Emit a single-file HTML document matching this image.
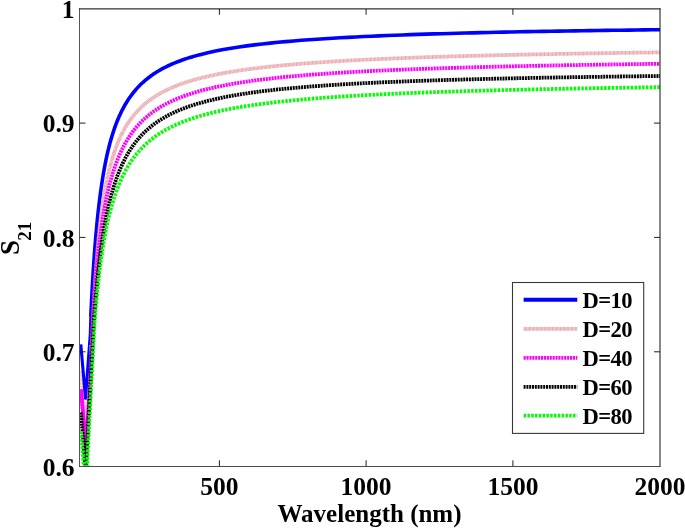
<!DOCTYPE html>
<html><head><meta charset="utf-8"><style>
html,body{margin:0;padding:0;background:#fff;}
body{width:685px;height:529px;overflow:hidden;}
svg{display:block;will-change:transform;}
text{font-family:"Liberation Serif",serif;font-weight:bold;fill:#000;}
.tk{font-size:25.5px;}
.lg{font-size:22.6px;letter-spacing:-0.6px;}
</style></head><body>
<svg width="685" height="529" viewBox="0 0 685 529">
<defs><clipPath id="c"><rect x="79.5" y="8.8" width="580.5" height="457.5"/></clipPath></defs>
<rect width="685" height="529" fill="#fff"/>
<g clip-path="url(#c)" fill="none" stroke-linejoin="round">
<polyline points="80.8,371 85.6,430 91.0,345" stroke="#f0c2c5" stroke-width="3.8" stroke-dasharray="1 0.35"/>
<polyline points="90.80,316.81 91.17,308.87 91.54,301.34 91.91,294.20 92.28,287.42 92.65,280.96 93.02,274.82 93.39,268.95 93.76,263.35 94.13,258.00 94.50,252.89 94.87,247.99 95.24,243.29 95.61,238.78 95.97,234.46 96.34,230.30 96.71,226.31 97.08,222.46 97.45,218.76 97.82,215.19 98.19,211.75 98.56,208.42 98.93,205.22 99.30,202.12 99.67,199.12 100.04,196.23 100.41,193.42 100.78,190.71 101.15,188.08 101.52,185.53 101.89,183.06 102.26,180.66 102.63,178.33 103.00,176.07 103.37,173.88 103.74,171.74 104.11,169.67 104.48,167.65 104.85,165.69 105.22,163.78 105.58,161.92 105.95,160.11 106.32,158.34 106.69,156.62 107.06,154.94 107.43,153.31 107.80,151.71 108.17,150.15 108.54,148.63 108.91,147.15 109.28,145.70 109.65,144.28 110.02,142.90 110.39,141.54 110.76,140.22 111.13,138.93 111.50,137.66 111.87,136.42 112.24,135.21 112.61,134.02 112.98,132.86 113.35,131.72 113.72,130.61 114.09,129.52 114.46,128.45 114.83,127.40 115.19,126.37 115.56,125.36 115.93,124.37 116.30,123.40 116.67,122.45 117.04,121.51 117.41,120.60 117.78,119.70 118.15,118.82 118.52,117.95 118.89,117.10 119.26,116.26 119.63,115.44 120.00,114.63 121.36,111.78 122.71,109.11 124.07,106.59 125.42,104.21 126.78,101.97 128.14,99.84 129.49,97.83 130.85,95.92 132.20,94.10 133.56,92.37 134.92,90.73 136.27,89.16 137.63,87.66 138.98,86.22 140.34,84.85 141.69,83.54 143.05,82.28 144.41,81.08 145.76,79.92 147.12,78.80 148.47,77.73 149.83,76.70 151.19,75.71 152.54,74.75 153.90,73.83 155.25,72.94 156.61,72.08 157.97,71.25 159.32,70.45 160.68,69.67 162.03,68.92 163.39,68.19 164.75,67.49 166.10,66.80 167.46,66.14 168.81,65.50 170.17,64.87 171.53,64.27 172.88,63.68 174.24,63.11 175.59,62.55 176.95,62.01 178.31,61.48 179.66,60.97 181.02,60.47 182.37,59.98 183.73,59.51 185.08,59.05 186.44,58.60 187.80,58.16 189.15,57.73 190.51,57.31 191.86,56.91 193.22,56.51 194.58,56.12 195.93,55.74 197.29,55.37 198.64,55.00 200.00,54.65 207.80,52.75 215.59,51.07 223.39,49.57 231.19,48.22 238.98,47.00 246.78,45.89 254.58,44.89 262.37,43.96 270.17,43.12 277.97,42.33 285.76,41.61 293.56,40.94 301.36,40.32 309.15,39.74 316.95,39.19 324.75,38.69 332.54,38.21 340.34,37.76 348.14,37.34 355.93,36.94 363.73,36.56 371.53,36.20 379.32,35.86 387.12,35.54 394.92,35.24 402.71,34.95 410.51,34.67 418.31,34.40 426.10,34.15 433.90,33.91 441.69,33.68 449.49,33.46 457.29,33.25 465.08,33.04 472.88,32.85 480.68,32.66 488.47,32.48 496.27,32.30 504.07,32.14 511.86,31.97 519.66,31.82 527.46,31.67 535.25,31.52 543.05,31.38 550.85,31.25 558.64,31.11 566.44,30.99 574.24,30.86 582.03,30.75 589.83,30.63 597.63,30.52 605.42,30.41 613.22,30.30 621.02,30.20 628.81,30.10 636.61,30.00 644.41,29.91 652.20,29.82 660.00,29.73" stroke="#0000ff" stroke-width="3.6"/>
<polyline points="80.8,344.3 85.5,398.3 90.3,334 90.80,316.81" stroke="#0000ff" stroke-width="3.1"/>
<polyline points="91.00,345.00 91.60,354.92 91.96,345.34 92.32,336.37 92.68,327.95 93.04,320.02 93.40,312.54 93.76,305.48 94.12,298.81 94.48,292.48 94.84,286.47 95.19,280.77 95.55,275.34 95.91,270.16 96.27,265.23 96.63,260.52 96.99,256.01 97.35,251.70 97.71,247.57 98.07,243.61 98.43,239.81 98.79,236.16 99.15,232.65 99.51,229.27 99.87,226.02 100.23,222.88 100.59,219.86 100.95,216.94 101.31,214.13 101.67,211.41 102.03,208.78 102.38,206.23 102.74,203.77 103.10,201.38 103.46,199.07 103.82,196.83 104.18,194.66 104.54,192.55 104.90,190.50 105.26,188.52 105.62,186.58 105.98,184.71 106.34,182.88 106.70,181.10 107.06,179.37 107.42,177.69 107.78,176.05 108.14,174.45 108.50,172.89 108.86,171.37 109.22,169.89 109.57,168.44 109.93,167.03 110.29,165.65 110.65,164.31 111.01,162.99 111.37,161.71 111.73,160.45 112.09,159.22 112.45,158.02 112.81,156.85 113.17,155.70 113.53,154.57 113.89,153.47 114.25,152.39 114.61,151.34 114.97,150.30 115.33,149.29 115.69,148.30 116.05,147.32 116.41,146.37 116.76,145.43 117.12,144.52 117.48,143.61 117.84,142.73 118.20,141.86 118.56,141.01 118.92,140.18 119.28,139.35 119.64,138.55 120.00,137.76 121.36,134.89 122.71,132.21 124.07,129.68 125.42,127.31 126.78,125.07 128.14,122.95 129.49,120.95 130.85,119.05 132.20,117.25 133.56,115.54 134.92,113.91 136.27,112.35 137.63,110.87 138.98,109.46 140.34,108.10 141.69,106.81 143.05,105.57 144.41,104.38 145.76,103.23 147.12,102.14 148.47,101.08 149.83,100.07 151.19,99.09 152.54,98.14 153.90,97.24 155.25,96.36 156.61,95.51 157.97,94.69 159.32,93.90 160.68,93.13 162.03,92.39 163.39,91.67 164.75,90.98 166.10,90.30 167.46,89.65 168.81,89.01 170.17,88.40 171.53,87.80 172.88,87.22 174.24,86.65 175.59,86.10 176.95,85.56 178.31,85.04 179.66,84.54 181.02,84.04 182.37,83.56 183.73,83.09 185.08,82.63 186.44,82.18 187.80,81.75 189.15,81.32 190.51,80.91 191.86,80.50 193.22,80.11 194.58,79.72 195.93,79.34 197.29,78.97 198.64,78.61 200.00,78.25 207.80,76.36 215.59,74.67 223.39,73.16 231.19,71.80 238.98,70.57 246.78,69.45 254.58,68.42 262.37,67.48 270.17,66.61 277.97,65.81 285.76,65.07 293.56,64.38 301.36,63.73 309.15,63.13 316.95,62.57 324.75,62.04 332.54,61.54 340.34,61.07 348.14,60.62 355.93,60.20 363.73,59.80 371.53,59.43 379.32,59.07 387.12,58.73 394.92,58.40 402.71,58.09 410.51,57.79 418.31,57.51 426.10,57.24 433.90,56.98 441.69,56.73 449.49,56.49 457.29,56.26 465.08,56.04 472.88,55.83 480.68,55.62 488.47,55.43 496.27,55.24 504.07,55.05 511.86,54.88 519.66,54.71 527.46,54.54 535.25,54.38 543.05,54.23 550.85,54.08 558.64,53.93 566.44,53.79 574.24,53.65 582.03,53.52 589.83,53.39 597.63,53.27 605.42,53.15 613.22,53.03 621.02,52.91 628.81,52.80 636.61,52.69 644.41,52.59 652.20,52.48 660.00,52.38" stroke="#e9a4a8" stroke-width="3.8" stroke-dasharray="1 0.35"/>
<polyline points="81.00,389.50 86.00,449.00 92.00,352.00 92.80,321.19 93.14,315.47 93.49,310.00 93.83,304.75 94.18,299.72 94.52,294.89 94.87,290.26 95.21,285.80 95.55,281.51 95.90,277.38 96.24,273.40 96.59,269.56 96.93,265.86 97.28,262.29 97.62,258.83 97.96,255.50 98.31,252.27 98.65,249.15 99.00,246.12 99.34,243.19 99.69,240.35 100.03,237.60 100.37,234.93 100.72,232.34 101.06,229.82 101.41,227.37 101.75,225.00 102.10,222.69 102.44,220.44 102.78,218.25 103.13,216.12 103.47,214.05 103.82,212.03 104.16,210.07 104.51,208.15 104.85,206.28 105.19,204.46 105.54,202.68 105.88,200.94 106.23,199.25 106.57,197.59 106.92,195.97 107.26,194.39 107.61,192.85 107.95,191.34 108.29,189.86 108.64,188.42 108.98,187.01 109.33,185.63 109.67,184.27 110.02,182.95 110.36,181.65 110.70,180.38 111.05,179.14 111.39,177.92 111.74,176.72 112.08,175.55 112.43,174.40 112.77,173.27 113.11,172.17 113.46,171.08 113.80,170.02 114.15,168.98 114.49,167.95 114.84,166.95 115.18,165.96 115.52,164.99 115.87,164.03 116.21,163.10 116.56,162.18 116.90,161.27 117.25,160.39 117.59,159.51 117.93,158.65 118.28,157.81 118.62,156.98 118.97,156.16 119.31,155.36 119.66,154.57 120.00,153.79 121.36,150.85 122.71,148.08 124.07,145.47 125.42,143.00 126.78,140.67 128.14,138.46 129.49,136.37 130.85,134.38 132.20,132.49 133.56,130.69 134.92,128.98 136.27,127.34 137.63,125.77 138.98,124.28 140.34,122.84 141.69,121.47 143.05,120.16 144.41,118.89 145.76,117.68 147.12,116.51 148.47,115.39 149.83,114.30 151.19,113.26 152.54,112.26 153.90,111.29 155.25,110.35 156.61,109.45 157.97,108.57 159.32,107.72 160.68,106.91 162.03,106.11 163.39,105.35 164.75,104.60 166.10,103.88 167.46,103.18 168.81,102.50 170.17,101.84 171.53,101.20 172.88,100.57 174.24,99.97 175.59,99.38 176.95,98.80 178.31,98.25 179.66,97.70 181.02,97.17 182.37,96.66 183.73,96.15 185.08,95.66 186.44,95.18 187.80,94.72 189.15,94.26 190.51,93.82 191.86,93.38 193.22,92.96 194.58,92.54 195.93,92.14 197.29,91.74 198.64,91.35 200.00,90.97 207.80,88.94 215.59,87.14 223.39,85.53 231.19,84.08 238.98,82.77 246.78,81.57 254.58,80.49 262.37,79.49 270.17,78.57 277.97,77.72 285.76,76.94 293.56,76.21 301.36,75.53 309.15,74.89 316.95,74.30 324.75,73.74 332.54,73.22 340.34,72.73 348.14,72.26 355.93,71.83 363.73,71.41 371.53,71.02 379.32,70.65 387.12,70.29 394.92,69.95 402.71,69.63 410.51,69.33 418.31,69.03 426.10,68.75 433.90,68.49 441.69,68.23 449.49,67.98 457.29,67.75 465.08,67.52 472.88,67.30 480.68,67.09 488.47,66.89 496.27,66.70 504.07,66.51 511.86,66.33 519.66,66.16 527.46,65.99 535.25,65.83 543.05,65.67 550.85,65.52 558.64,65.37 566.44,65.23 574.24,65.09 582.03,64.96 589.83,64.83 597.63,64.70 605.42,64.58 613.22,64.46 621.02,64.34 628.81,64.23 636.61,64.12 644.41,64.01 652.20,63.91 660.00,63.81" stroke="#ff00ff" stroke-width="3.8" stroke-dasharray="2.1 0.8"/>
<polyline points="81.0,389.5 86.0,449 92.0,352" stroke="#ff00ff" stroke-width="3.6"/>
<polyline points="81.00,412.50 85.70,471.00 93.80,322.70 94.13,318.04 94.46,313.55 94.79,309.21 95.13,305.01 95.46,300.96 95.79,297.04 96.12,293.24 96.45,289.57 96.78,286.01 97.12,282.56 97.45,279.21 97.78,275.97 98.11,272.82 98.44,269.76 98.77,266.79 99.11,263.90 99.44,261.09 99.77,258.36 100.10,255.71 100.43,253.12 100.76,250.61 101.10,248.16 101.43,245.77 101.76,243.44 102.09,241.18 102.42,238.96 102.75,236.81 103.09,234.70 103.42,232.65 103.75,230.64 104.08,228.69 104.41,226.77 104.74,224.90 105.08,223.08 105.41,221.29 105.74,219.55 106.07,217.84 106.40,216.17 106.73,214.53 107.07,212.93 107.40,211.37 107.73,209.84 108.06,208.33 108.39,206.86 108.72,205.42 109.06,204.01 109.39,202.63 109.72,201.27 110.05,199.94 110.38,198.63 110.71,197.35 111.05,196.10 111.38,194.87 111.71,193.66 112.04,192.47 112.37,191.31 112.70,190.16 113.04,189.04 113.37,187.94 113.70,186.85 114.03,185.79 114.36,184.74 114.69,183.72 115.03,182.70 115.36,181.71 115.69,180.73 116.02,179.77 116.35,178.83 116.68,177.90 117.02,176.99 117.35,176.09 117.68,175.20 118.01,174.33 118.34,173.48 118.67,172.63 119.01,171.80 119.34,170.98 119.67,170.18 120.00,169.39 121.36,166.27 122.71,163.33 124.07,160.56 125.42,157.95 126.78,155.47 128.14,153.13 129.49,150.91 130.85,148.79 132.20,146.79 133.56,144.87 134.92,143.05 136.27,141.31 137.63,139.65 138.98,138.06 140.34,136.54 141.69,135.08 143.05,133.69 144.41,132.35 145.76,131.06 147.12,129.82 148.47,128.63 149.83,127.49 151.19,126.38 152.54,125.32 153.90,124.29 155.25,123.30 156.61,122.35 157.97,121.42 159.32,120.53 160.68,119.67 162.03,118.83 163.39,118.02 164.75,117.24 166.10,116.48 167.46,115.74 168.81,115.03 170.17,114.33 171.53,113.66 172.88,113.01 174.24,112.37 175.59,111.75 176.95,111.15 178.31,110.57 179.66,110.00 181.02,109.45 182.37,108.91 183.73,108.38 185.08,107.87 186.44,107.37 187.80,106.88 189.15,106.41 190.51,105.95 191.86,105.49 193.22,105.05 194.58,104.62 195.93,104.20 197.29,103.79 198.64,103.39 200.00,102.99 207.80,100.90 215.59,99.04 223.39,97.38 231.19,95.90 238.98,94.56 246.78,93.35 254.58,92.25 262.37,91.24 270.17,90.31 277.97,89.46 285.76,88.67 293.56,87.95 301.36,87.27 309.15,86.64 316.95,86.05 324.75,85.50 332.54,84.99 340.34,84.50 348.14,84.05 355.93,83.62 363.73,83.21 371.53,82.83 379.32,82.47 387.12,82.13 394.92,81.80 402.71,81.49 410.51,81.19 418.31,80.91 426.10,80.64 433.90,80.39 441.69,80.14 449.49,79.91 457.29,79.68 465.08,79.47 472.88,79.26 480.68,79.06 488.47,78.87 496.27,78.69 504.07,78.51 511.86,78.34 519.66,78.18 527.46,78.02 535.25,77.87 543.05,77.72 550.85,77.58 558.64,77.44 566.44,77.31 574.24,77.18 582.03,77.06 589.83,76.94 597.63,76.82 605.42,76.71 613.22,76.60 621.02,76.49 628.81,76.39 636.61,76.29 644.41,76.19 652.20,76.09 660.00,76.00" stroke="#000000" stroke-width="3.8" stroke-dasharray="2 0.8"/>
<polyline points="81.00,431.50 85.70,491.00 94.60,322.19 94.92,318.05 95.24,314.04 95.56,310.17 95.89,306.42 96.21,302.79 96.53,299.28 96.85,295.88 97.17,292.58 97.49,289.38 97.82,286.28 98.14,283.26 98.46,280.34 98.78,277.49 99.10,274.73 99.42,272.04 99.74,269.43 100.07,266.89 100.39,264.41 100.71,262.00 101.03,259.65 101.35,257.36 101.67,255.13 101.99,252.95 102.32,250.83 102.64,248.76 102.96,246.74 103.28,244.77 103.60,242.84 103.92,240.96 104.25,239.12 104.57,237.32 104.89,235.56 105.21,233.84 105.53,232.16 105.85,230.52 106.17,228.91 106.50,227.33 106.82,225.79 107.14,224.28 107.46,222.80 107.78,221.35 108.10,219.93 108.43,218.54 108.75,217.17 109.07,215.84 109.39,214.52 109.71,213.24 110.03,211.97 110.35,210.74 110.68,209.52 111.00,208.33 111.32,207.15 111.64,206.00 111.96,204.87 112.28,203.76 112.61,202.67 112.93,201.60 113.25,200.55 113.57,199.52 113.89,198.50 114.21,197.50 114.53,196.51 114.86,195.55 115.18,194.60 115.50,193.66 115.82,192.74 116.14,191.84 116.46,190.94 116.78,190.07 117.11,189.20 117.43,188.35 117.75,187.52 118.07,186.69 118.39,185.88 118.71,185.08 119.04,184.30 119.36,183.52 119.68,182.76 120.00,182.00 121.36,178.95 122.71,176.06 124.07,173.35 125.42,170.78 126.78,168.35 128.14,166.04 129.49,163.86 130.85,161.78 132.20,159.80 133.56,157.91 134.92,156.11 136.27,154.39 137.63,152.75 138.98,151.18 140.34,149.67 141.69,148.23 143.05,146.84 144.41,145.51 145.76,144.23 147.12,143.00 148.47,141.82 149.83,140.68 151.19,139.58 152.54,138.52 153.90,137.50 155.25,136.51 156.61,135.55 157.97,134.63 159.32,133.73 160.68,132.87 162.03,132.03 163.39,131.22 164.75,130.43 166.10,129.67 167.46,128.93 168.81,128.21 170.17,127.51 171.53,126.83 172.88,126.17 174.24,125.53 175.59,124.90 176.95,124.29 178.31,123.70 179.66,123.13 181.02,122.56 182.37,122.02 183.73,121.48 185.08,120.96 186.44,120.46 187.80,119.96 189.15,119.48 190.51,119.01 191.86,118.54 193.22,118.09 194.58,117.65 195.93,117.22 197.29,116.80 198.64,116.39 200.00,115.99 207.80,113.84 215.59,111.93 223.39,110.21 231.19,108.67 238.98,107.28 246.78,106.02 254.58,104.86 262.37,103.80 270.17,102.83 277.97,101.93 285.76,101.09 293.56,100.32 301.36,99.60 309.15,98.93 316.95,98.30 324.75,97.71 332.54,97.16 340.34,96.63 348.14,96.14 355.93,95.68 363.73,95.24 371.53,94.82 379.32,94.43 387.12,94.05 394.92,93.70 402.71,93.36 410.51,93.03 418.31,92.72 426.10,92.43 433.90,92.14 441.69,91.87 449.49,91.61 457.29,91.36 465.08,91.13 472.88,90.90 480.68,90.67 488.47,90.46 496.27,90.26 504.07,90.06 511.86,89.87 519.66,89.69 527.46,89.51 535.25,89.34 543.05,89.17 550.85,89.01 558.64,88.86 566.44,88.71 574.24,88.56 582.03,88.42 589.83,88.28 597.63,88.15 605.42,88.02 613.22,87.90 621.02,87.77 628.81,87.66 636.61,87.54 644.41,87.43 652.20,87.32 660.00,87.22" stroke="#00ff00" stroke-width="3.8" stroke-dasharray="2.5 1.3"/>
</g>
<line x1="79.5" y1="8.2" x2="79.5" y2="467" stroke="#555" stroke-width="1"/>
<line x1="660" y1="8.2" x2="660" y2="467" stroke="#111" stroke-width="1"/>
<line x1="79" y1="8.9" x2="660.5" y2="8.9" stroke="#333" stroke-width="1.4"/>
<line x1="79" y1="466.5" x2="660.5" y2="466.5" stroke="#4a4a4a" stroke-width="1"/>
<g stroke="#222" stroke-width="1"><line x1="219.4" y1="466.3" x2="219.4" y2="460.3"/><line x1="219.4" y1="8.8" x2="219.4" y2="14.8"/><line x1="366.1" y1="466.3" x2="366.1" y2="460.3"/><line x1="366.1" y1="8.8" x2="366.1" y2="14.8"/><line x1="512.9" y1="466.3" x2="512.9" y2="460.3"/><line x1="512.9" y1="8.8" x2="512.9" y2="14.8"/><line x1="79.5" y1="123.1" x2="85.5" y2="123.1"/><line x1="660.0" y1="123.1" x2="654.0" y2="123.1"/><line x1="79.5" y1="237.4" x2="85.5" y2="237.4"/><line x1="660.0" y1="237.4" x2="654.0" y2="237.4"/><line x1="79.5" y1="351.8" x2="85.5" y2="351.8"/><line x1="660.0" y1="351.8" x2="654.0" y2="351.8"/></g>
<g class="tk">
<text x="74.6" y="18.1" text-anchor="end">1</text>
<text x="74.6" y="132.4" text-anchor="end">0.9</text>
<text x="74.6" y="246.70000000000002" text-anchor="end">0.8</text>
<text x="74.6" y="361.1" text-anchor="end">0.7</text>
<text x="74.6" y="475.6" text-anchor="end">0.6</text>
<text x="219.4" y="495" text-anchor="middle">500</text>
<text x="366.1" y="495" text-anchor="middle">1000</text>
<text x="512.9" y="495" text-anchor="middle">1500</text>
<text x="660" y="495" text-anchor="middle">2000</text>
<text x="369.5" y="522.4" text-anchor="middle" style="font-size:25px">Wavelength (nm)</text>
</g>
<g transform="translate(18.9,255.1) rotate(-90)">
<text x="0" y="0" style="font-size:27px">S</text>
<text x="14.3" y="12.2" style="font-size:19px">21</text>
</g>
<rect x="512.5" y="282.5" width="131.2" height="150.9" fill="#fff" stroke="#383838" stroke-width="1.1"/>
<g fill="none"><line x1="523.6" y1="299.8" x2="577.3" y2="299.8" stroke="#0000ff" stroke-width="3.9" fill="none"/><text x="582.6" y="307.6" class="lg">D=10</text><line x1="523.6" y1="328.9" x2="577.3" y2="328.9" stroke="#e9a4a8" stroke-width="3.8" stroke-dasharray="1 0.35" fill="none"/><text x="582.6" y="336.7" class="lg">D=20</text><line x1="523.6" y1="357.9" x2="577.3" y2="357.9" stroke="#ff00ff" stroke-width="3.8" stroke-dasharray="2.1 0.8" fill="none"/><text x="582.6" y="365.7" class="lg">D=40</text><line x1="523.6" y1="386.8" x2="577.3" y2="386.8" stroke="#000000" stroke-width="3.8" stroke-dasharray="2 0.8" fill="none"/><text x="582.6" y="394.6" class="lg">D=60</text><line x1="523.6" y1="415.7" x2="577.3" y2="415.7" stroke="#00ff00" stroke-width="3.8" stroke-dasharray="2.5 1.3" fill="none"/><text x="582.6" y="423.5" class="lg">D=80</text></g>
</svg>
</body></html>
